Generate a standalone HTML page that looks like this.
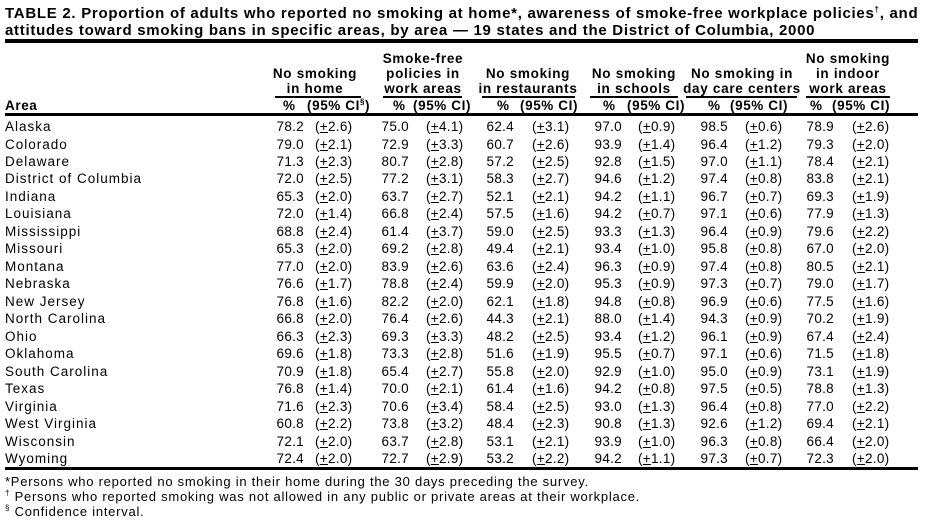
<!DOCTYPE html>
<html><head><meta charset="utf-8"><style>
body{margin:0;width:927px;height:522px;background:#fff;position:relative;overflow:hidden;font-family:"Liberation Sans",Arial,sans-serif;color:#000}
.t{position:absolute;left:5px;font-weight:bold;font-size:15px;letter-spacing:0.72px;white-space:nowrap;line-height:17px}
.rule{position:absolute;left:5px;width:913px;background:#000}
.r{position:absolute;left:0;width:927px;height:18px;line-height:18px;font-size:13.5px;letter-spacing:0.3px;white-space:nowrap}
.r span{position:absolute;top:0}
.r .a{left:5px;letter-spacing:1px}
.p1{right:623px}.p2{right:518px}.p3{right:413px}.p4{right:305px}.p5{right:199px}.p6{right:93px}
.c1{left:315px}.c2{left:426px}.c3{left:532px}.c4{left:638px}.c5{left:745px}.c6{left:852px}
.h{position:absolute;font-weight:bold;font-size:13.5px;letter-spacing:0.7px;text-align:center;line-height:15px;white-space:nowrap}
.ul{position:absolute;height:2px;background:#000;top:96px}
.hr{position:absolute;top:97px;left:0;width:927px;height:18px;line-height:18px;font-weight:bold;font-size:13.5px;letter-spacing:0.6px;white-space:nowrap}
.hr span{position:absolute;top:0}
.f{position:absolute;left:5px;font-size:13px;letter-spacing:0.75px;white-space:nowrap;line-height:15px}
sup{font-size:8px;vertical-align:super;line-height:0}
</style></head><body>
<div class="t" style="top:5px">TABLE 2. Proportion of adults who reported no smoking at home*, awareness of smoke-free workplace policies<sup>†</sup>, and</div>
<div class="t" style="top:22px">attitudes toward smoking bans in specific areas, by area — 19 states and the District of Columbia, 2000</div>
<div class="rule" style="top:39px;height:4px"></div>

<div class="h" style="left:248px;width:134px;top:66px">No smoking<br>in home</div>
<div class="h" style="left:356px;width:134px;top:51px">Smoke-free<br>policies in<br>work areas</div>
<div class="h" style="left:461px;width:134px;top:66px">No smoking<br>in restaurants</div>
<div class="h" style="left:564px;width:140px;top:66px">No smoking<br>in schools</div>
<div class="h" style="left:667px;width:150px;top:66px">No smoking in<br>day care centers</div>
<div class="h" style="left:781px;width:134px;top:51px">No smoking<br>in indoor<br>work areas</div>
<div class="ul" style="left:275px;width:86px"></div>
<div class="ul" style="left:383px;width:79px"></div>
<div class="ul" style="left:482px;width:93px"></div>
<div class="ul" style="left:590px;width:88px"></div>
<div class="ul" style="left:686px;width:111px"></div>
<div class="ul" style="left:806px;width:84px"></div>

<div class="hr"><span style="left:5px">Area</span>
<span style="left:283px">%</span><span style="left:307px">(95% CI<sup>§</sup>)</span>
<span style="left:393px">%</span><span style="left:413px">(95% CI)</span>
<span style="left:497px">%</span><span style="left:520px">(95% CI)</span>
<span style="left:603px">%</span><span style="left:627px">(95% CI)</span>
<span style="left:708px">%</span><span style="left:730px">(95% CI)</span>
<span style="left:810px">%</span><span style="left:832px">(95% CI)</span></div>
<div class="rule" style="top:113px;height:3px"></div>

<div class="r" style="top:118px"><span class="a">Alaska</span><span class="p1">78.2</span><span class="c1">(<u>+</u>2.6)</span><span class="p2">75.0</span><span class="c2">(<u>+</u>4.1)</span><span class="p3">62.4</span><span class="c3">(<u>+</u>3.1)</span><span class="p4">97.0</span><span class="c4">(<u>+</u>0.9)</span><span class="p5">98.5</span><span class="c5">(<u>+</u>0.6)</span><span class="p6">78.9</span><span class="c6">(<u>+</u>2.6)</span></div>
<div class="r" style="top:135.5px"><span class="a">Colorado</span><span class="p1">79.0</span><span class="c1">(<u>+</u>2.1)</span><span class="p2">72.9</span><span class="c2">(<u>+</u>3.3)</span><span class="p3">60.7</span><span class="c3">(<u>+</u>2.6)</span><span class="p4">93.9</span><span class="c4">(<u>+</u>1.4)</span><span class="p5">96.4</span><span class="c5">(<u>+</u>1.2)</span><span class="p6">79.3</span><span class="c6">(<u>+</u>2.0)</span></div>
<div class="r" style="top:152.9px"><span class="a">Delaware</span><span class="p1">71.3</span><span class="c1">(<u>+</u>2.3)</span><span class="p2">80.7</span><span class="c2">(<u>+</u>2.8)</span><span class="p3">57.2</span><span class="c3">(<u>+</u>2.5)</span><span class="p4">92.8</span><span class="c4">(<u>+</u>1.5)</span><span class="p5">97.0</span><span class="c5">(<u>+</u>1.1)</span><span class="p6">78.4</span><span class="c6">(<u>+</u>2.1)</span></div>
<div class="r" style="top:170.4px"><span class="a">District of Columbia</span><span class="p1">72.0</span><span class="c1">(<u>+</u>2.5)</span><span class="p2">77.2</span><span class="c2">(<u>+</u>3.1)</span><span class="p3">58.3</span><span class="c3">(<u>+</u>2.7)</span><span class="p4">94.6</span><span class="c4">(<u>+</u>1.2)</span><span class="p5">97.4</span><span class="c5">(<u>+</u>0.8)</span><span class="p6">83.8</span><span class="c6">(<u>+</u>2.1)</span></div>
<div class="r" style="top:187.9px"><span class="a">Indiana</span><span class="p1">65.3</span><span class="c1">(<u>+</u>2.0)</span><span class="p2">63.7</span><span class="c2">(<u>+</u>2.7)</span><span class="p3">52.1</span><span class="c3">(<u>+</u>2.1)</span><span class="p4">94.2</span><span class="c4">(<u>+</u>1.1)</span><span class="p5">96.7</span><span class="c5">(<u>+</u>0.7)</span><span class="p6">69.3</span><span class="c6">(<u>+</u>1.9)</span></div>
<div class="r" style="top:205.3px"><span class="a">Louisiana</span><span class="p1">72.0</span><span class="c1">(<u>+</u>1.4)</span><span class="p2">66.8</span><span class="c2">(<u>+</u>2.4)</span><span class="p3">57.5</span><span class="c3">(<u>+</u>1.6)</span><span class="p4">94.2</span><span class="c4">(<u>+</u>0.7)</span><span class="p5">97.1</span><span class="c5">(<u>+</u>0.6)</span><span class="p6">77.9</span><span class="c6">(<u>+</u>1.3)</span></div>
<div class="r" style="top:222.8px"><span class="a">Mississippi</span><span class="p1">68.8</span><span class="c1">(<u>+</u>2.4)</span><span class="p2">61.4</span><span class="c2">(<u>+</u>3.7)</span><span class="p3">59.0</span><span class="c3">(<u>+</u>2.5)</span><span class="p4">93.3</span><span class="c4">(<u>+</u>1.3)</span><span class="p5">96.4</span><span class="c5">(<u>+</u>0.9)</span><span class="p6">79.6</span><span class="c6">(<u>+</u>2.2)</span></div>
<div class="r" style="top:240.3px"><span class="a">Missouri</span><span class="p1">65.3</span><span class="c1">(<u>+</u>2.0)</span><span class="p2">69.2</span><span class="c2">(<u>+</u>2.8)</span><span class="p3">49.4</span><span class="c3">(<u>+</u>2.1)</span><span class="p4">93.4</span><span class="c4">(<u>+</u>1.0)</span><span class="p5">95.8</span><span class="c5">(<u>+</u>0.8)</span><span class="p6">67.0</span><span class="c6">(<u>+</u>2.0)</span></div>
<div class="r" style="top:257.8px"><span class="a">Montana</span><span class="p1">77.0</span><span class="c1">(<u>+</u>2.0)</span><span class="p2">83.9</span><span class="c2">(<u>+</u>2.6)</span><span class="p3">63.6</span><span class="c3">(<u>+</u>2.4)</span><span class="p4">96.3</span><span class="c4">(<u>+</u>0.9)</span><span class="p5">97.4</span><span class="c5">(<u>+</u>0.8)</span><span class="p6">80.5</span><span class="c6">(<u>+</u>2.1)</span></div>
<div class="r" style="top:275.2px"><span class="a">Nebraska</span><span class="p1">76.6</span><span class="c1">(<u>+</u>1.7)</span><span class="p2">78.8</span><span class="c2">(<u>+</u>2.4)</span><span class="p3">59.9</span><span class="c3">(<u>+</u>2.0)</span><span class="p4">95.3</span><span class="c4">(<u>+</u>0.9)</span><span class="p5">97.3</span><span class="c5">(<u>+</u>0.7)</span><span class="p6">79.0</span><span class="c6">(<u>+</u>1.7)</span></div>
<div class="r" style="top:292.7px"><span class="a">New Jersey</span><span class="p1">76.8</span><span class="c1">(<u>+</u>1.6)</span><span class="p2">82.2</span><span class="c2">(<u>+</u>2.0)</span><span class="p3">62.1</span><span class="c3">(<u>+</u>1.8)</span><span class="p4">94.8</span><span class="c4">(<u>+</u>0.8)</span><span class="p5">96.9</span><span class="c5">(<u>+</u>0.6)</span><span class="p6">77.5</span><span class="c6">(<u>+</u>1.6)</span></div>
<div class="r" style="top:310.2px"><span class="a">North Carolina</span><span class="p1">66.8</span><span class="c1">(<u>+</u>2.0)</span><span class="p2">76.4</span><span class="c2">(<u>+</u>2.6)</span><span class="p3">44.3</span><span class="c3">(<u>+</u>2.1)</span><span class="p4">88.0</span><span class="c4">(<u>+</u>1.4)</span><span class="p5">94.3</span><span class="c5">(<u>+</u>0.9)</span><span class="p6">70.2</span><span class="c6">(<u>+</u>1.9)</span></div>
<div class="r" style="top:327.6px"><span class="a">Ohio</span><span class="p1">66.3</span><span class="c1">(<u>+</u>2.3)</span><span class="p2">69.3</span><span class="c2">(<u>+</u>3.3)</span><span class="p3">48.2</span><span class="c3">(<u>+</u>2.5)</span><span class="p4">93.4</span><span class="c4">(<u>+</u>1.2)</span><span class="p5">96.1</span><span class="c5">(<u>+</u>0.9)</span><span class="p6">67.4</span><span class="c6">(<u>+</u>2.4)</span></div>
<div class="r" style="top:345.1px"><span class="a">Oklahoma</span><span class="p1">69.6</span><span class="c1">(<u>+</u>1.8)</span><span class="p2">73.3</span><span class="c2">(<u>+</u>2.8)</span><span class="p3">51.6</span><span class="c3">(<u>+</u>1.9)</span><span class="p4">95.5</span><span class="c4">(<u>+</u>0.7)</span><span class="p5">97.1</span><span class="c5">(<u>+</u>0.6)</span><span class="p6">71.5</span><span class="c6">(<u>+</u>1.8)</span></div>
<div class="r" style="top:362.6px"><span class="a">South Carolina</span><span class="p1">70.9</span><span class="c1">(<u>+</u>1.8)</span><span class="p2">65.4</span><span class="c2">(<u>+</u>2.7)</span><span class="p3">55.8</span><span class="c3">(<u>+</u>2.0)</span><span class="p4">92.9</span><span class="c4">(<u>+</u>1.0)</span><span class="p5">95.0</span><span class="c5">(<u>+</u>0.9)</span><span class="p6">73.1</span><span class="c6">(<u>+</u>1.9)</span></div>
<div class="r" style="top:380.1px"><span class="a">Texas</span><span class="p1">76.8</span><span class="c1">(<u>+</u>1.4)</span><span class="p2">70.0</span><span class="c2">(<u>+</u>2.1)</span><span class="p3">61.4</span><span class="c3">(<u>+</u>1.6)</span><span class="p4">94.2</span><span class="c4">(<u>+</u>0.8)</span><span class="p5">97.5</span><span class="c5">(<u>+</u>0.5)</span><span class="p6">78.8</span><span class="c6">(<u>+</u>1.3)</span></div>
<div class="r" style="top:397.5px"><span class="a">Virginia</span><span class="p1">71.6</span><span class="c1">(<u>+</u>2.3)</span><span class="p2">70.6</span><span class="c2">(<u>+</u>3.4)</span><span class="p3">58.4</span><span class="c3">(<u>+</u>2.5)</span><span class="p4">93.0</span><span class="c4">(<u>+</u>1.3)</span><span class="p5">96.4</span><span class="c5">(<u>+</u>0.8)</span><span class="p6">77.0</span><span class="c6">(<u>+</u>2.2)</span></div>
<div class="r" style="top:415px"><span class="a">West Virginia</span><span class="p1">60.8</span><span class="c1">(<u>+</u>2.2)</span><span class="p2">73.8</span><span class="c2">(<u>+</u>3.2)</span><span class="p3">48.4</span><span class="c3">(<u>+</u>2.3)</span><span class="p4">90.8</span><span class="c4">(<u>+</u>1.3)</span><span class="p5">92.6</span><span class="c5">(<u>+</u>1.2)</span><span class="p6">69.4</span><span class="c6">(<u>+</u>2.1)</span></div>
<div class="r" style="top:432.5px"><span class="a">Wisconsin</span><span class="p1">72.1</span><span class="c1">(<u>+</u>2.0)</span><span class="p2">63.7</span><span class="c2">(<u>+</u>2.8)</span><span class="p3">53.1</span><span class="c3">(<u>+</u>2.1)</span><span class="p4">93.9</span><span class="c4">(<u>+</u>1.0)</span><span class="p5">96.3</span><span class="c5">(<u>+</u>0.8)</span><span class="p6">66.4</span><span class="c6">(<u>+</u>2.0)</span></div>
<div class="r" style="top:450px"><span class="a">Wyoming</span><span class="p1">72.4</span><span class="c1">(<u>+</u>2.0)</span><span class="p2">72.7</span><span class="c2">(<u>+</u>2.9)</span><span class="p3">53.2</span><span class="c3">(<u>+</u>2.2)</span><span class="p4">94.2</span><span class="c4">(<u>+</u>1.1)</span><span class="p5">97.3</span><span class="c5">(<u>+</u>0.7)</span><span class="p6">72.3</span><span class="c6">(<u>+</u>2.0)</span></div>
<div class="rule" style="top:467px;height:3px"></div>

<div class="f" style="top:474px">*Persons who reported no smoking in their home during the 30 days preceding the survey.</div>
<div class="f" style="top:489px"><sup>†</sup> Persons who reported smoking was not allowed in any public or private areas at their workplace.</div>
<div class="f" style="top:504px"><sup>§</sup> Confidence interval.</div>
</body></html>
